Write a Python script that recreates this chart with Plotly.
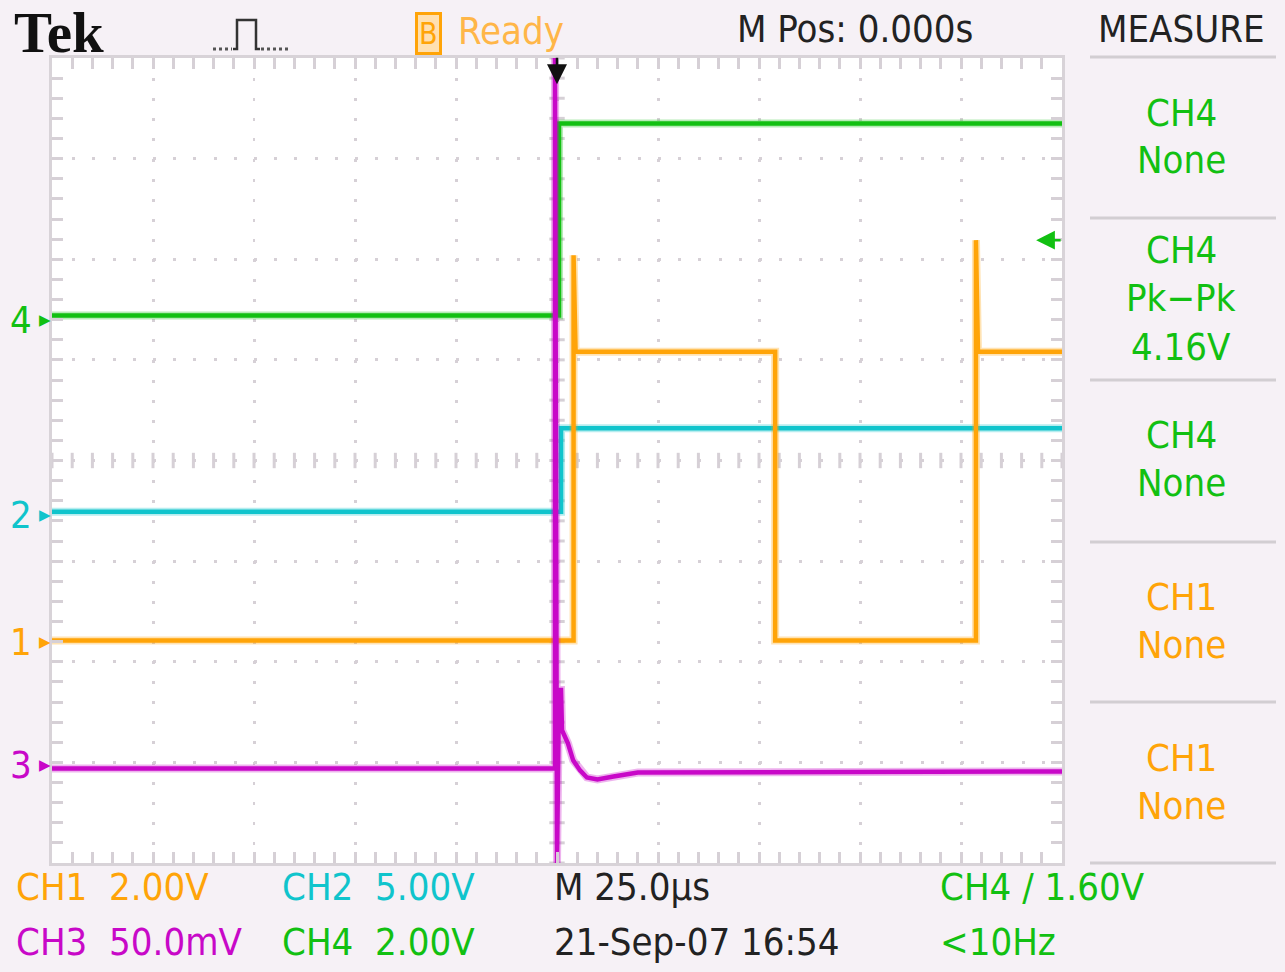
import numpy as np
import plotly.graph_objects as go

# ---------------- data (time in us, 25 us/div; level in screen divisions) ----------------
ch4_t = [-125, 0.5, 0.5, 125]
ch4_y = [1.44, 1.44, 3.35, 3.35]

ch2_t = [-125, 1.0, 1.0, 125]
ch2_y = [-0.51, -0.51, 0.32, 0.32]

ch1_t = [-125, 4.1, 4.1, 4.6, 54.0, 54.0, 103.7, 103.7, 104.2, 125]
ch1_y = [-1.79, -1.79, 2.04, 1.08, 1.08, -1.79, -1.79, 2.19, 1.08, 1.08]

ch3_t = [-125, -0.5, -0.5, 0.0, 0.5, 1.0, 1.24, 2.7, 4.0, 5.7, 7.4, 10.0, 14.0, 20.0, 125]
ch3_y = [-3.06, -3.06, 4.0, -4.0, -2.28, -2.28, -2.68, -2.81, -2.98, -3.08, -3.15, -3.17, -3.14, -3.10, -3.09]

marker_levels = {"4": 1.40, "2": -0.54, "1": -1.80, "3": -3.03}
trigger_level = 2.19

# ---------------- styling ----------------
GREEN = "#12c012"
CYAN = "#10c4cc"
ORANGE = "#ffa408"
MAGENTA = "#c808c8"
GRID = "#d6d0d6"
BG = "#f6f1f6"
FONT = "Liberation Sans Narrow, DejaVu Sans Condensed, Arial Narrow, sans-serif"

L, R, T, B = 52, 1062, 58, 863
PW, PH = R - L, B - T


def px(x):
    return (x - L) / PW


def py(y):
    return (B - y) / PH


fig = go.Figure()

# centre-cross graticule ticks
minor_t = np.arange(-125, 125.01, 5)
minor_v = np.arange(-4, 4.01, 0.2)
fig.add_trace(go.Scatter(x=minor_t, y=[0] * len(minor_t), mode="markers", hoverinfo="skip",
                         marker=dict(symbol="line-ns-open", size=11, color=GRID,
                                     line=dict(color=GRID, width=3))))
fig.add_trace(go.Scatter(x=[0] * len(minor_v), y=minor_v, mode="markers", hoverinfo="skip",
                         marker=dict(symbol="line-ew-open", size=11, color=GRID,
                                     line=dict(color=GRID, width=3))))

for t, y, c in [(ch4_t, ch4_y, GREEN), (ch2_t, ch2_y, CYAN), (ch1_t, ch1_y, ORANGE), (ch3_t, ch3_y, MAGENTA)]:
    fig.add_trace(go.Scatter(x=t, y=y, mode="lines", hoverinfo="skip", opacity=0.3,
                             line=dict(color=c, width=8)))
    fig.add_trace(go.Scatter(x=t, y=y, mode="lines", hoverinfo="skip",
                             line=dict(color=c, width=4.5)))

ann = []


def txt(s, x, y, color, size=38, xanchor="left", family=FONT, **kw):
    d = dict(text=s, x=px(x), y=py(y), xref="paper", yref="paper", xanchor=xanchor, yanchor="middle",
             showarrow=False, font=dict(family=family, size=size, color=color))
    d.update(kw)
    ann.append(d)


NB = "\u00a0"
# top bar
txt("<b>Tek</b>", 12, 32, "#111111", size=57, family="Liberation Serif, DejaVu Serif, serif")
txt("B", 415, 33, ORANGE, size=30, bordercolor=ORANGE, borderwidth=3, bgcolor="#ffe0b0", borderpad=1)
txt("Ready", 456, 31, "#ffb648")
txt("M Pos: 0.000s", 735, 29, "#222222")
txt("MEASURE", 1181, 29, "#222222", xanchor="center")

# bottom bar
txt("CH1" + NB * 2 + "2.00V", 14, 887, ORANGE)
txt("CH2" + NB * 2 + "5.00V", 280, 887, CYAN)
txt("M 25.0µs", 552, 887, "#222222")
txt("CH4 / 1.60V", 938, 887, GREEN)
txt("CH3" + NB * 2 + "50.0mV", 14, 942, MAGENTA)
txt("CH4" + NB * 2 + "2.00V", 280, 942, GREEN)
txt("21-Sep-07 16:54", 552, 942, "#222222")
txt("<10Hz", 938, 942, GREEN)

# measure panel
meas = [("CH4", 113, GREEN), ("None", 160, GREEN),
        ("CH4", 250, GREEN), ("Pk\u2212Pk", 298, GREEN), ("4.16V", 347, GREEN),
        ("CH4", 435, GREEN), ("None", 483, GREEN),
        ("CH1", 597, ORANGE), ("None", 645, ORANGE),
        ("CH1", 758, ORANGE), ("None", 806, ORANGE)]
for s, y, c in meas:
    txt(s, 1181, y, c, xanchor="center")

# channel ground markers on the left
mcol = {"4": GREEN, "2": CYAN, "1": ORANGE, "3": MAGENTA}
for k, v in marker_levels.items():
    ann.append(dict(text=k, x=0, y=v, xref="paper", yref="y", xanchor="right", yanchor="middle",
                    xshift=-18, showarrow=False, font=dict(family=FONT, size=38, color=mcol[k])))
    ann.append(dict(text="\u25B6", x=0, y=v, xref="paper", yref="y", xanchor="right", yanchor="middle",
                    xshift=1, showarrow=False, font=dict(family="DejaVu Sans", size=15, color=mcol[k])))

# trigger position (top) and trigger level (right) arrows
ann.append(dict(x=0, y=3.74, xref="x", yref="y", ax=0, ay=-28, showarrow=True, arrowhead=2,
                arrowsize=1.6, arrowwidth=2.5, arrowcolor="#111111", text=""))
ann.append(dict(x=118.6, y=trigger_level, xref="x", yref="y", ax=26, ay=0, showarrow=True, arrowhead=2,
                arrowsize=1.5, arrowwidth=2.5, arrowcolor=GREEN, text=""))

shapes = []
# pulse icon
shapes.append(dict(type="path", xref="paper", yref="paper", line=dict(color="#333333", width=2.5),
                   path=f"M {px(233)} {py(49)} L {px(237)} {py(49)} L {px(237)} {py(20)} L {px(256)} {py(20)} L {px(256)} {py(49)} L {px(260)} {py(49)}"))
for x0, x1 in [(213, 232), (261, 290)]:
    shapes.append(dict(type="line", xref="paper", yref="paper", x0=px(x0), x1=px(x1), y0=py(49), y1=py(49),
                       line=dict(color="#555555", width=3, dash="3px,3px")))
# measure panel separators
for y in [57, 218, 380, 542, 702, 863]:
    shapes.append(dict(type="line", xref="paper", yref="paper", x0=px(1090), x1=px(1276), y0=py(y), y1=py(y),
                       line=dict(color="#d2ced2", width=3)))

axis_common = dict(showline=True, mirror="allticks", linecolor="#d8d3d8", linewidth=3,
                   ticks="inside", ticklen=11, tickwidth=3, tickcolor=GRID, showticklabels=False,
                   showgrid=True, gridcolor=GRID, gridwidth=3, zeroline=False, fixedrange=True)

fig.update_layout(
    width=1285, height=972, showlegend=False,
    margin=dict(l=L, r=1285 - R, t=T, b=972 - B),
    paper_bgcolor=BG, plot_bgcolor="white",
    xaxis=dict(range=[-125, 125], dtick=25, griddash="3px,17.1px",
               minor=dict(dtick=5, ticks="inside", ticklen=11, tickwidth=3, tickcolor=GRID, showgrid=False),
               **axis_common),
    yaxis=dict(range=[-4, 4], dtick=1, griddash="3px,17.2px",
               minor=dict(dtick=0.2, ticks="inside", ticklen=11, tickwidth=3, tickcolor=GRID, showgrid=False),
               **axis_common),
    annotations=ann, shapes=shapes,
)

fig.write_html("out.html", config={"displayModeBar": False},
               post_script="document.body.style.margin='0';document.body.style.overflow='hidden';")
